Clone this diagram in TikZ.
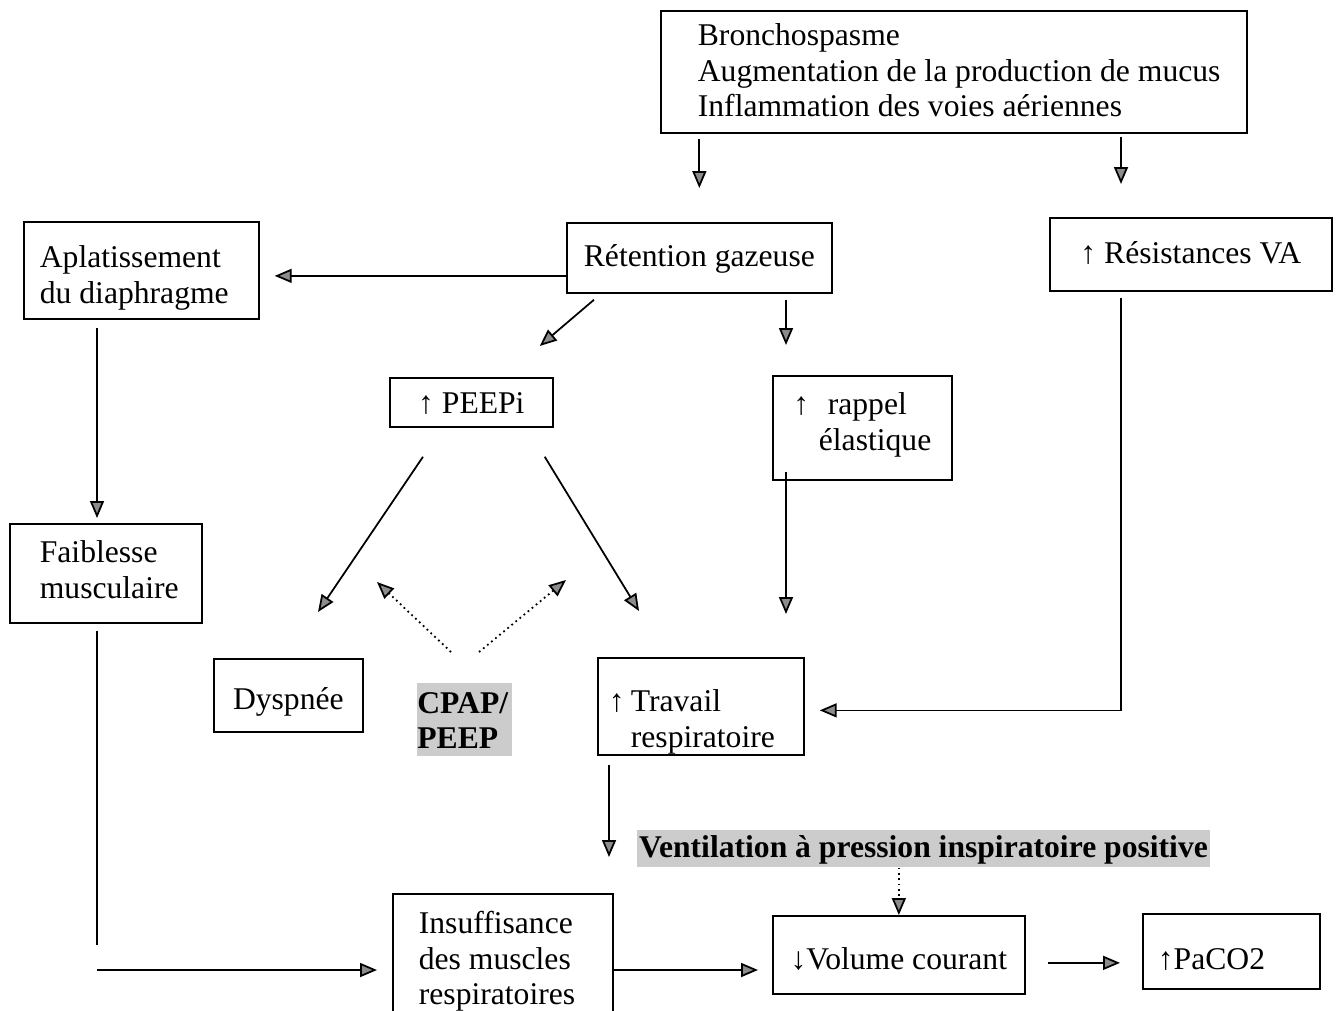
\documentclass[tikz,border=0pt]{standalone}
\usepackage{fontspec}
\setmainfont{Liberation Serif}
\usetikzlibrary{arrows.meta}
\tikzset{
  box/.style={draw, line width=1pt, inner sep=0pt, anchor=north west},
  hl/.style={fill=gray!40, inner ysep=0pt, inner xsep=1pt, anchor=north west, font=\fontsize{18}{20}\selectfont\bfseries},
  arr/.style={line width=1pt, -{Triangle[length=0.34cm, width=0.28cm, fill=black!45]}},
  arrdot/.style={arr, dotted},
}
\begin{document}
\begin{tikzpicture}[x=0.02cm, y=-0.02cm, font=\fontsize{18}{20}\selectfont]
    \useasboundingbox (0,0) rectangle (1339,1011);
    \clip (0,0) rectangle (1339,1011);
    % boxes
    \node[box, inner xsep=0.1cm, text width=11.52cm, align=flush left, text height=0.7cm, text depth=1.74cm] (cause) at (660,10) {\hspace*{0.64cm}Bronchospasme\\\hspace*{0.64cm}\mbox{Augmentation de la production de mucus}\\\hspace*{0.64cm}Inflammation des voies aériennes};
    \node[box, minimum width=5.3cm, text height=0.88cm, text depth=0.52cm] (ret) at (566,222) {Rétention gazeuse};
    \node[box, inner xsep=0.32cm, text width=4.06cm, align=flush left, text height=0.92cm, text depth=1.02cm] (apl) at (23,221) {Aplatissement\\du diaphragme};
    \node[box, minimum width=5.64cm, text height=0.92cm, text depth=0.54cm] (res) at (1049,217) {↑ Résistances VA};
    \node[box, minimum width=3.26cm, text height=0.72cm, text depth=0.26cm] (peep) at (389,377) {↑ PEEPi};
    \node[box, inner xsep=0.41cm, text width=2.76cm, align=flush left, text height=0.78cm, text depth=1.3cm] (rap) at (772,375) {\makebox[0.69cm][l]{↑}rappel\\\hspace*{0.51cm}élastique};
    \node[box, inner xsep=0.3cm, text width=3.24cm, align=flush left, text height=0.78cm, text depth=1.2cm] (fai) at (9,523) {\hspace*{0.3cm}Faiblesse\\\hspace*{0.3cm}musculaire};
    \node[box, minimum width=2.98cm, text height=1.02cm, text depth=0.44cm] (dys) at (213,658) {Dyspnée};
    \node[hl, inner xsep=0pt, text width=1.9cm, align=flush left, text height=0.6cm, text depth=0.86cm] (cpap) at (417,683) {CPAP/\\PEEP};
    \node[box, inner xsep=0.22cm, text width=3.68cm, align=flush left, text height=1.08cm, text depth=0.86cm] (tra) at (597,657) {\makebox[0.44cm][l]{↑}Travail\\\hspace*{0.44cm}respiratoire};
    \node[hl, text height=0.54cm, text depth=0.2cm] (vent) at (637,830) {Ventilation à pression inspiratoire positive};
    \node[box, inner xsep=0.52cm, text width=3.36cm, align=flush left, text height=0.8cm, text depth=1.9cm] (ins) at (392,893) {Insuffisance\\des muscles\\respiratoires};
    \node[box, minimum width=5.04cm, text height=1.08cm, text depth=0.48cm] (vol) at (772,915) {↓Volume courant};
    \node[box, inner xsep=0.3cm, text width=2.94cm, align=flush left, text height=1.12cm, text depth=0.38cm] (pac) at (1142,913) {↑PaCO2};
    % arrow ends
    \coordinate (resin) at ([shift={(72,0)}]res.north west);
    \coordinate (retw) at ([shift={(0,18)}]ret.west);
    \coordinate (rapin) at ([shift={(14,0)}]rap.north west);
    \coordinate (faiin) at ([shift={(88,0)}]fai.north west);
    \coordinate (trae) at ([shift={(0,4)}]tra.east);
    \coordinate (trad) at ([shift={(12,0)}]tra.south west);
    \coordinate (insw) at ([shift={(0,77)}]ins.north west);
    \coordinate (inse) at ([shift={(0,77)}]ins.north east);
    \coordinate (vole) at ([shift={(0,8)}]vol.east);
    \coordinate (dotl) at ([shift={(-40,-101)}]cpap.north west);
    \coordinate (dotr) at ([shift={(149,-103)}]cpap.north west);
    % arrows
    \draw[arr, shorten <=0.1cm, shorten >=0.68cm] (cause.south -| ret.north) -- (ret.north);
    \draw[arr, shorten <=0.06cm, shorten >=0.66cm] (resin |- cause.south) -- (resin);
    \draw[arr, shorten >=0.3cm] (retw) -- (retw -| apl.east);
    \draw[arr] ([shift={(28,6)}]ret.south west) -- ([shift={(-14,-31)}]peep.north east);
    \draw[arr, shorten <=0.12cm, shorten >=0.6cm] (rapin |- ret.south) -- (rapin);
    \draw[arr, shorten <=0.16cm, shorten >=0.1cm] (faiin |- apl.south) -- (faiin);
    \draw[arr] ([shift={(34,29)}]peep.south west) -- ([shift={(105,-46)}]dys.north west);
    \draw[arr] ([shift={(-9,29)}]peep.south east) -- ([shift={(42,-46)}]tra.north west);
    \draw[arr, shorten <=-0.18cm, shorten >=0.86cm] (rapin |- rap.south) -- (rapin |- tra.north);
    \draw[arrdot] ([shift={(34,-31)}]cpap.north west) -- (dotl);
    \draw[arrdot] ([shift={(62,-31)}]cpap.north west) -- (dotr);
    \draw[arr, shorten <=0.12cm, shorten >=0.3cm] (resin |- res.south) |- (trae);
    \draw[line width=1pt, shorten <=0.14cm] (faiin |- fai.south) -- ++(0,321);
    \draw[arr, shorten >=0.3cm] (faiin |- insw) -- (insw);
    \draw[arr, shorten <=0.18cm, shorten >=0.72cm] (trad) -- (trad |- ins.north);
    \draw[arrdot] (vent.south -| vol.north) -- (vol.north);
    \draw[arr, shorten >=0.28cm] (inse) -- (inse -| vol.west);
    \draw[arr, shorten <=0.44cm, shorten >=0.44cm] (vole) -- (vole -| pac.west);
\end{tikzpicture}
\end{document}
